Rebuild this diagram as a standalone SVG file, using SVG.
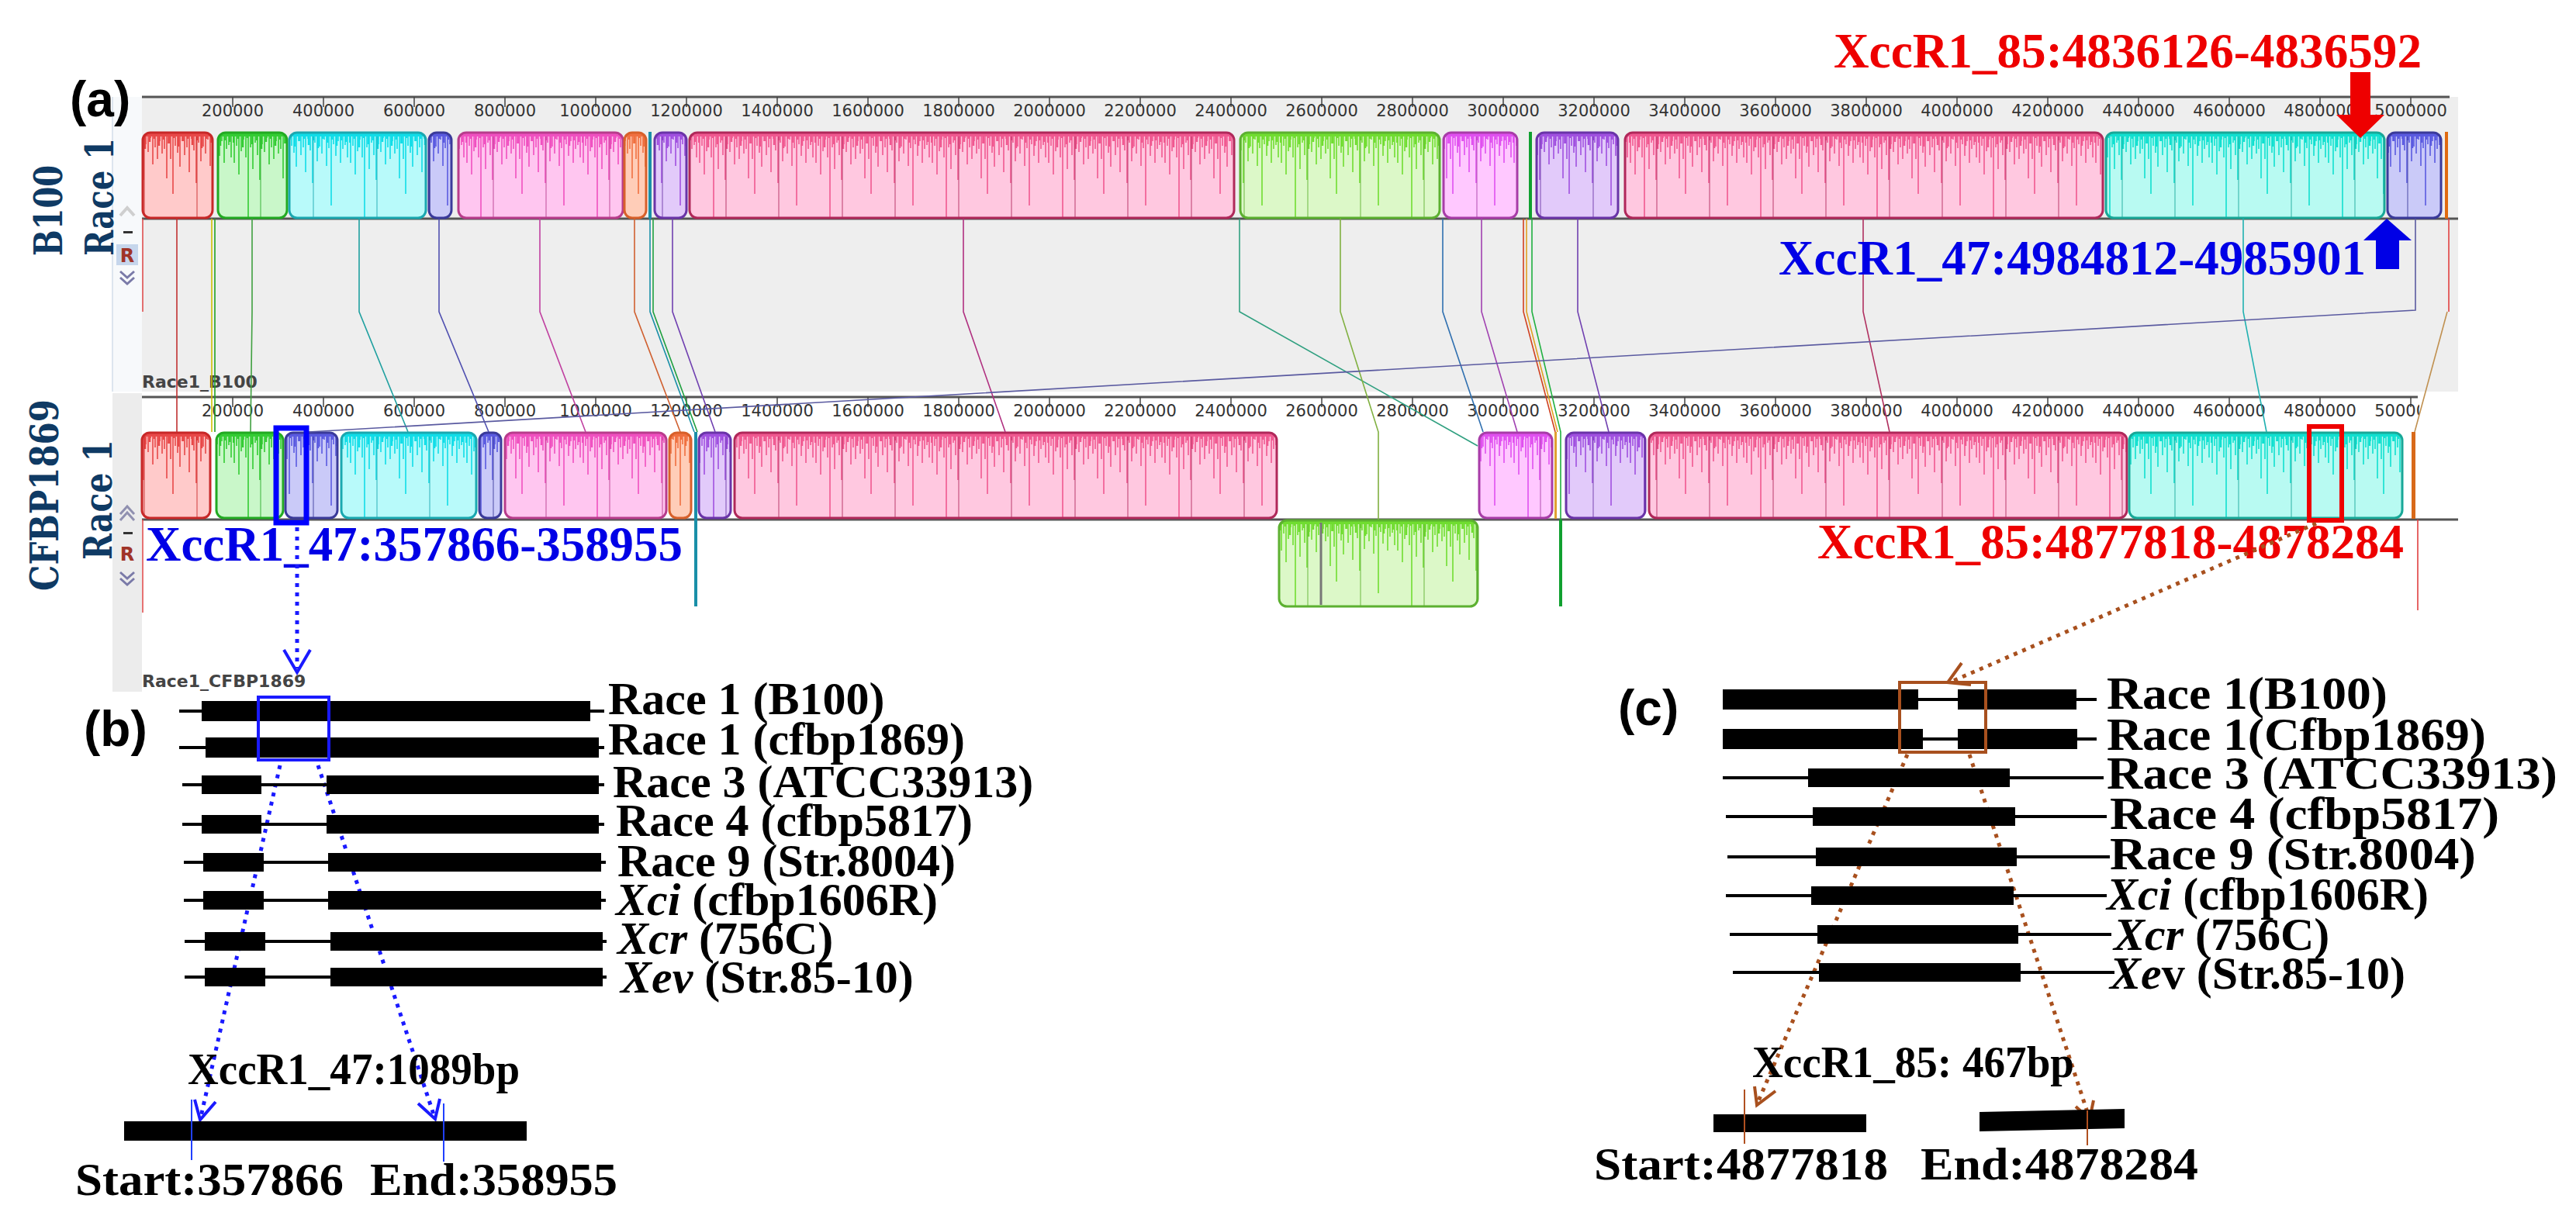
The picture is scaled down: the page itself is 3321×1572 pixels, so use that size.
<svg xmlns="http://www.w3.org/2000/svg" width="3321" height="1572" viewBox="0 0 3321 1572">
<defs>
<style>
.rl{font-family:"DejaVu Sans",sans-serif;font-size:21px;fill:#333;text-anchor:middle}
.tk{stroke:#444;stroke-width:1.5}
.nav{font-family:"DejaVu Serif",serif;font-weight:bold;fill:#0f3a64;font-size:50px}
.trk{font-family:"DejaVu Sans",sans-serif;font-weight:bold;font-size:22px;fill:#444}
.big{font-family:"Liberation Serif",serif;font-weight:bold;font-size:64px}
.lab{font-family:"Liberation Serif",serif;font-weight:bold;font-size:60px;fill:#000}
.sm{font-family:"Liberation Serif",serif;font-weight:bold;font-size:56px;fill:#000}
.pl{font-family:"Liberation Sans",sans-serif;font-weight:bold;font-size:64px;fill:#000}
.bar{fill:#000}
.thin{stroke:#000;stroke-width:4}
.c{fill:none;stroke-width:1.6}
.f-red{fill:#ffcaca}.s-red{fill:url(#p-red);stroke:#c82828;stroke-width:3}
.f-grn{fill:#c9f7c9}.s-grn{fill:url(#p-grn);stroke:#22aa22;stroke-width:3}
.f-cyn{fill:#b8fafa}.s-cyn{fill:url(#p-cyn);stroke:#1aa8b0;stroke-width:3}
.f-blu{fill:#cacaf8}.s-blu{fill:url(#p-blu);stroke:#3a3a9a;stroke-width:3}
.f-mag{fill:#ffc6f0}.s-mag{fill:url(#p-mag);stroke:#b83c8c;stroke-width:3}
.f-org{fill:#ffcdb8}.s-org{fill:url(#p-org);stroke:#d8602a;stroke-width:3}
.f-pur{fill:#e2cafa}.s-pur{fill:url(#p-pur);stroke:#6a34a8;stroke-width:3}
.f-ros{fill:#ffc8e0}.s-ros{fill:url(#p-ros);stroke:#b0285a;stroke-width:3}
.f-lim{fill:#dcf8c8}.s-lim{fill:url(#p-lim);stroke:#5cb030;stroke-width:3}
.f-vio{fill:#ffc8ff}.s-vio{fill:url(#p-vio);stroke:#a83ca8;stroke-width:3}
.f-cy2{fill:#b8faf2}.s-cy2{fill:url(#p-cy2);stroke:#18a898;stroke-width:3}
.dotb{fill:none;stroke:#1a1aff;stroke-width:5;stroke-dasharray:5 7}
.dotr{fill:none;stroke:#a8501e;stroke-width:5;stroke-dasharray:5 7}
.hb{fill:none;stroke:#1a1aff;stroke-width:4}
.hr{fill:none;stroke:#a8501e;stroke-width:4}
</style>
<g id="spk" fill="none" stroke-width="1.6">
<path d="M2 0V40M5 0V18M8 0V55M11 0V25M14 0V10M17 0V33M20 0V112M23 0V20M26 0V48M29 0V14M32 0V30M35 0V62M38 0V16M41 0V26M44 0V8M47 0V42M50 0V20M53 0V35M56 0V12M59 0V28"/>
<path d="M62 0V22M65 0V60M67 0V15M70 0V35M73 0V80M76 0V18M79 0V27M82 0V45M85 0V12M88 0V30M91 0V20M94 0V52M97 0V9M100 0V24M103 0V66M106 0V14M109 0V38M112 0V19M115 0V28M118 0V10M121 0V44M124 0V21M127 0V95M130 0V16M133 0V31M136 0V12M139 0V40M142 0V22M145 0V17M148 0V33"/>
<path d="M1 0V14M7 0V9M13 0V20M19 0V8M25 0V16M31 0V11M37 0V22M43 0V13M49 0V9M55 0V18M61 0V10M68 0V15M74 0V8M80 0V19M86 0V12M92 0V9M98 0V17M104 0V11M110 0V21M116 0V9M122 0V14M128 0V10M134 0V18M140 0V11M146 0V13" stroke-width="2.5"/>
</g>
<g id="spkd" fill="none" stroke-width="1.6" stroke-opacity="0.55">
<path d="M36 0V112M104 0V112"/>
</g>
<pattern id="p-red" width="150" height="112" patternUnits="userSpaceOnUse"><use href="#spk" stroke="#e84848"/><use href="#spkd" stroke="#c82828"/><rect width="150" height="6" fill="#e84848"/></pattern>
<pattern id="p-grn" width="150" height="112" patternUnits="userSpaceOnUse"><use href="#spk" stroke="#33cc33"/><use href="#spkd" stroke="#22aa22"/><rect width="150" height="6" fill="#33cc33"/></pattern>
<pattern id="p-cyn" width="150" height="112" patternUnits="userSpaceOnUse"><use href="#spk" stroke="#10dde8"/><use href="#spkd" stroke="#1aa8b0"/><rect width="150" height="6" fill="#10dde8"/></pattern>
<pattern id="p-blu" width="150" height="112" patternUnits="userSpaceOnUse"><use href="#spk" stroke="#5a5ae0"/><use href="#spkd" stroke="#3a3a9a"/><rect width="150" height="6" fill="#5a5ae0"/></pattern>
<pattern id="p-mag" width="150" height="112" patternUnits="userSpaceOnUse"><use href="#spk" stroke="#f050c0"/><use href="#spkd" stroke="#b83c8c"/><rect width="150" height="6" fill="#f050c0"/></pattern>
<pattern id="p-org" width="150" height="112" patternUnits="userSpaceOnUse"><use href="#spk" stroke="#f07040"/><use href="#spkd" stroke="#d8602a"/><rect width="150" height="6" fill="#f07040"/></pattern>
<pattern id="p-pur" width="150" height="112" patternUnits="userSpaceOnUse"><use href="#spk" stroke="#a050e0"/><use href="#spkd" stroke="#6a34a8"/><rect width="150" height="6" fill="#a050e0"/></pattern>
<pattern id="p-ros" width="150" height="112" patternUnits="userSpaceOnUse"><use href="#spk" stroke="#f05890"/><use href="#spkd" stroke="#b0285a"/><rect width="150" height="6" fill="#f05890"/></pattern>
<pattern id="p-lim" width="150" height="112" patternUnits="userSpaceOnUse"><use href="#spk" stroke="#70dd30"/><use href="#spkd" stroke="#5cb030"/><rect width="150" height="6" fill="#70dd30"/></pattern>
<pattern id="p-vio" width="150" height="112" patternUnits="userSpaceOnUse"><use href="#spk" stroke="#e050f0"/><use href="#spkd" stroke="#a83ca8"/><rect width="150" height="6" fill="#e050f0"/></pattern>
<pattern id="p-cy2" width="150" height="112" patternUnits="userSpaceOnUse"><use href="#spk" stroke="#10e0d0"/><use href="#spkd" stroke="#18a898"/><rect width="150" height="6" fill="#10e0d0"/></pattern>
<clipPath id="clipU"><rect x="183" y="100" width="2977" height="80"/></clipPath>
<clipPath id="clipL"><rect x="183" y="490" width="2936" height="80"/></clipPath>
</defs>
<rect width="3321" height="1572" fill="#fff"/>

<!-- panel backgrounds -->
<g id="panel-a-bg">
<rect x="183" y="125" width="2986" height="380" fill="#eeeeee"/>
<rect x="145" y="125" width="38" height="380" fill="#f7f9fb"/>
<line x1="145" y1="125" x2="145" y2="505" stroke="#dde5ee" stroke-width="2"/>
<rect x="145" y="507" width="38" height="385" fill="#ececec"/>
<line x1="183" y1="125" x2="3158" y2="125" stroke="#555" stroke-width="3"/>
<line x1="183" y1="512" x2="3117" y2="512" stroke="#555" stroke-width="3"/>
<line x1="183" y1="282" x2="3169" y2="282" stroke="#555" stroke-width="3"/>
<line x1="183" y1="670" x2="3169" y2="670" stroke="#555" stroke-width="3"/>
</g>

<!-- rulers -->
<g id="ruler-upper">
<path class="tk" d="M300 125V138M417 125V138M534 125V138M651 125V138M768 125V138M885 125V138M1002 125V138M1119 125V138M1236 125V138M1353 125V138M1470 125V138M1587 125V138M1704 125V138M1821 125V138M1938 125V138M2055 125V138M2172 125V138M2289 125V138M2406 125V138M2523 125V138M2640 125V138M2757 125V138M2874 125V138M2991 125V138M3108 125V138"/>
<g clip-path="url(#clipU)">
<text class="rl" x="300" y="150">200000</text><text class="rl" x="417" y="150">400000</text><text class="rl" x="534" y="150">600000</text><text class="rl" x="651" y="150">800000</text><text class="rl" x="768" y="150">1000000</text><text class="rl" x="885" y="150">1200000</text><text class="rl" x="1002" y="150">1400000</text><text class="rl" x="1119" y="150">1600000</text><text class="rl" x="1236" y="150">1800000</text><text class="rl" x="1353" y="150">2000000</text><text class="rl" x="1470" y="150">2200000</text><text class="rl" x="1587" y="150">2400000</text><text class="rl" x="1704" y="150">2600000</text><text class="rl" x="1821" y="150">2800000</text><text class="rl" x="1938" y="150">3000000</text><text class="rl" x="2055" y="150">3200000</text><text class="rl" x="2172" y="150">3400000</text><text class="rl" x="2289" y="150">3600000</text><text class="rl" x="2406" y="150">3800000</text><text class="rl" x="2523" y="150">4000000</text><text class="rl" x="2640" y="150">4200000</text><text class="rl" x="2757" y="150">4400000</text><text class="rl" x="2874" y="150">4600000</text><text class="rl" x="2991" y="150">4800000</text><text class="rl" x="3108" y="150">5000000</text>
</g>
</g>
<g id="ruler-lower">
<path class="tk" d="M300 512V525M417 512V525M534 512V525M651 512V525M768 512V525M885 512V525M1002 512V525M1119 512V525M1236 512V525M1353 512V525M1470 512V525M1587 512V525M1704 512V525M1821 512V525M1938 512V525M2055 512V525M2172 512V525M2289 512V525M2406 512V525M2523 512V525M2640 512V525M2757 512V525M2874 512V525M2991 512V525M3108 512V525"/>
<g clip-path="url(#clipL)">
<text class="rl" x="300" y="537">200000</text><text class="rl" x="417" y="537">400000</text><text class="rl" x="534" y="537">600000</text><text class="rl" x="651" y="537">800000</text><text class="rl" x="768" y="537">1000000</text><text class="rl" x="885" y="537">1200000</text><text class="rl" x="1002" y="537">1400000</text><text class="rl" x="1119" y="537">1600000</text><text class="rl" x="1236" y="537">1800000</text><text class="rl" x="1353" y="537">2000000</text><text class="rl" x="1470" y="537">2200000</text><text class="rl" x="1587" y="537">2400000</text><text class="rl" x="1704" y="537">2600000</text><text class="rl" x="1821" y="537">2800000</text><text class="rl" x="1938" y="537">3000000</text><text class="rl" x="2055" y="537">3200000</text><text class="rl" x="2172" y="537">3400000</text><text class="rl" x="2289" y="537">3600000</text><text class="rl" x="2406" y="537">3800000</text><text class="rl" x="2523" y="537">4000000</text><text class="rl" x="2640" y="537">4200000</text><text class="rl" x="2757" y="537">4400000</text><text class="rl" x="2874" y="537">4600000</text><text class="rl" x="2991" y="537">4800000</text><text class="rl" x="3108" y="537">5000000</text>
</g>
</g>

<!-- track labels and controls -->
<g id="labels-left">
<text class="pl" x="90" y="150">(a)</text>
<text class="nav" transform="translate(80,330) rotate(-90)" textLength="117" lengthAdjust="spacingAndGlyphs">B100</text>
<text class="nav" transform="translate(146,330) rotate(-90)" textLength="152" lengthAdjust="spacingAndGlyphs">Race 1</text>
<text class="nav" transform="translate(75,762) rotate(-90)" textLength="247" lengthAdjust="spacingAndGlyphs">CFBP1869</text>
<text class="nav" transform="translate(144,722) rotate(-90)" textLength="155" lengthAdjust="spacingAndGlyphs">Race 1</text>
<g id="ctrl-upper">
<path d="M155 278L164 268L173 278" fill="none" stroke="#cfcfcf" stroke-width="4"/>
<rect x="159" y="298" width="12" height="3" fill="#333"/>
<rect x="150" y="315" width="28" height="27" fill="#c6d6ec"/>
<text x="164" y="338" font-family="DejaVu Sans,sans-serif" font-weight="bold" font-size="24" fill="#a03428" text-anchor="middle">R</text>
<path d="M155 350L164 358L173 350M155 358L164 366L173 358" fill="none" stroke="#7a7aa8" stroke-width="3"/>
</g>
<g id="ctrl-lower">
<path d="M155 663L164 653L173 663M155 671L164 661L173 671" fill="none" stroke="#9090b0" stroke-width="3"/>
<rect x="159" y="686" width="12" height="3" fill="#333"/>
<text x="164" y="723" font-family="DejaVu Sans,sans-serif" font-weight="bold" font-size="24" fill="#a03428" text-anchor="middle">R</text>
<path d="M155 738L164 746L173 738M155 746L164 754L173 746" fill="none" stroke="#7a7aa8" stroke-width="3"/>
</g>
<text class="trk" x="183" y="500">Race1_B100</text>
<text class="trk" x="183" y="886">Race1_CFBP1869</text>
</g>

<!-- upper track blocks (B100) -->
<g id="track-b100" transform="translate(0,170)">
<g id="u1"><rect class="f-red" x="184" y="1" width="90" height="110" rx="10"/><rect class="s-red" x="184" y="1" width="90" height="110" rx="10"/></g>
<g id="u2"><rect class="f-grn" x="281" y="1" width="89" height="110" rx="10"/><rect class="s-grn" x="281" y="1" width="89" height="110" rx="10"/></g>
<g id="u3"><rect class="f-cyn" x="373" y="1" width="176" height="110" rx="10"/><rect class="s-cyn" x="373" y="1" width="176" height="110" rx="10"/></g>
<g id="u4"><rect class="f-blu" x="553" y="1" width="29" height="110" rx="10"/><rect class="s-blu" x="553" y="1" width="29" height="110" rx="10"/></g>
<g id="u5"><rect class="f-mag" x="591" y="1" width="212" height="110" rx="10"/><rect class="s-mag" x="591" y="1" width="212" height="110" rx="10"/></g>
<g id="u6"><rect class="f-org" x="805" y="1" width="28" height="110" rx="10"/><rect class="s-org" x="805" y="1" width="28" height="110" rx="10"/></g>
<rect id="u7" x="836" y="0" width="4" height="112" fill="#1a8fa8"/>
<g id="u8"><rect class="f-pur" x="844" y="1" width="41" height="110" rx="10"/><rect class="s-pur" x="844" y="1" width="41" height="110" rx="10"/></g>
<g id="u9"><rect class="f-ros" x="889" y="1" width="702" height="110" rx="10"/><rect class="s-ros" x="889" y="1" width="702" height="110" rx="10"/></g>
<g id="u10"><rect class="f-lim" x="1599" y="1" width="257" height="110" rx="10"/><rect class="s-lim" x="1599" y="1" width="257" height="110" rx="10"/></g>
<g id="u11"><rect class="f-vio" x="1861" y="1" width="95" height="110" rx="10"/><rect class="s-vio" x="1861" y="1" width="95" height="110" rx="10"/></g>
<rect id="u12" x="1971" y="0" width="4" height="112" fill="#10a030"/>
<g id="u13"><rect class="f-pur" x="1981" y="1" width="105" height="110" rx="10"/><rect class="s-pur" x="1981" y="1" width="105" height="110" rx="10"/></g>
<g id="u14"><rect class="f-ros" x="2095" y="1" width="616" height="110" rx="10"/><rect class="s-ros" x="2095" y="1" width="616" height="110" rx="10"/></g>
<g id="u15"><rect class="f-cy2" x="2715" y="1" width="359" height="110" rx="10"/><rect class="s-cy2" x="2715" y="1" width="359" height="110" rx="10"/></g>
<g id="u16"><rect class="f-blu" x="3078" y="1" width="69" height="110" rx="10"/><rect class="s-blu" x="3078" y="1" width="69" height="110" rx="10"/></g>
<rect id="u17" x="3152" y="0" width="4" height="112" fill="#e06a10"/>
</g>

<!-- lower track blocks (CFBP1869) -->
<g id="track-cfbp1869" transform="translate(0,557)">
<g id="l1"><rect class="f-red" x="183" y="1" width="88" height="110" rx="10"/><rect class="s-red" x="183" y="1" width="88" height="110" rx="10"/></g>
<g id="l2"><rect class="f-grn" x="279" y="1" width="86" height="110" rx="10"/><rect class="s-grn" x="279" y="1" width="86" height="110" rx="10"/></g>
<g id="l3"><rect class="f-blu" x="368" y="1" width="67" height="110" rx="10"/><rect class="s-blu" x="368" y="1" width="67" height="110" rx="10"/><line x1="393" y1="2" x2="393" y2="110" stroke="#3a3a9a" stroke-width="2"/></g>
<g id="l4"><rect class="f-cyn" x="440" y="1" width="174" height="110" rx="10"/><rect class="s-cyn" x="440" y="1" width="174" height="110" rx="10"/></g>
<g id="l5"><rect class="f-blu" x="618" y="1" width="28" height="110" rx="10"/><rect class="s-blu" x="618" y="1" width="28" height="110" rx="10"/></g>
<g id="l6"><rect class="f-mag" x="651" y="1" width="208" height="110" rx="10"/><rect class="s-mag" x="651" y="1" width="208" height="110" rx="10"/></g>
<g id="l7"><rect class="f-org" x="863" y="1" width="28" height="110" rx="10"/><rect class="s-org" x="863" y="1" width="28" height="110" rx="10"/></g>
<rect id="l8" x="895" y="0" width="4" height="225" fill="#1a8fa8"/>
<g id="l9"><rect class="f-pur" x="901" y="1" width="41" height="110" rx="10"/><rect class="s-pur" x="901" y="1" width="41" height="110" rx="10"/></g>
<g id="l10"><rect class="f-ros" x="947" y="1" width="699" height="110" rx="10"/><rect class="s-ros" x="947" y="1" width="699" height="110" rx="10"/></g>
<g id="l11"><rect class="f-vio" x="1907" y="1" width="94" height="110" rx="10"/><rect class="s-vio" x="1907" y="1" width="94" height="110" rx="10"/></g>
<rect id="l12" x="2004" y="0" width="3" height="112" fill="#e0a030"/>
<g id="l13"><rect class="f-pur" x="2019" y="1" width="102" height="110" rx="10"/><rect class="s-pur" x="2019" y="1" width="102" height="110" rx="10"/></g>
<g id="l14"><rect class="f-ros" x="2126" y="1" width="616" height="110" rx="10"/><rect class="s-ros" x="2126" y="1" width="616" height="110" rx="10"/></g>
<g id="l15"><rect class="f-cy2" x="2745" y="1" width="352" height="110" rx="10"/><rect class="s-cy2" x="2745" y="1" width="352" height="110" rx="10"/></g>
<rect id="l16" x="3109" y="0" width="5" height="112" fill="#d86a1a"/>
</g>
<g id="track-cfbp1869-inverted" transform="translate(0,670)">
<g id="l17"><rect class="f-lim" x="1649" y="1" width="256" height="111" rx="10"/><rect class="s-lim" x="1649" y="1" width="256" height="111" rx="10"/><line x1="1703" y1="4" x2="1703" y2="110" stroke="#777" stroke-width="3"/></g>
<rect id="l18" x="2010" y="0" width="4" height="112" fill="#10a030"/>
</g>

<!-- connectors between aligned blocks -->
<g id="connectors">
<path class="c" stroke="#e05050" d="M184 282V402M184 670V790"/>
<path class="c" stroke="#c03030" d="M228 282V557"/>
<path class="c" stroke="#d0c000" d="M273 282V557"/>
<path class="c" stroke="#20a020" d="M277 282V557"/>
<path class="c" stroke="#40a040" d="M325 282V402L323 557"/>
<path class="c" stroke="#20a0a0" d="M463 282V402L526 557"/>
<path class="c" stroke="#5050b0" d="M566 282V402L630 557"/>
<path class="c" stroke="#c040a0" d="M696 282V402L755 557"/>
<path class="c" stroke="#d06030" d="M818 282V402L877 557"/>
<path class="c" stroke="#1a8fa8" stroke-width="2.5" d="M838 282V402L895 557"/>
<path class="c" stroke="#20a040" d="M842 282V402L899 557"/>
<path class="c" stroke="#7040b0" d="M867 282V402L922 557"/>
<path class="c" stroke="#b03080" d="M1242 282V402L1296 557"/>
<path class="c" stroke="#30a080" stroke-width="2.5" d="M1598 282V402L1905 575"/>
<path class="c" stroke="#80b040" d="M1728 282V402L1777 557V670"/>
<path class="c" stroke="#3070b0" d="M1860 282V402L1912 557"/>
<path class="c" stroke="#a040b0" d="M1910 282V402L1956 557"/>
<path class="c" stroke="#d04020" d="M1964 282V402L2005 557"/>
<path class="c" stroke="#e0a020" d="M1968 282V402L2008 557"/>
<path class="c" stroke="#20b040" d="M1975 282V402L2012 557V670"/>
<path class="c" stroke="#7040b0" d="M2034 282V402L2074 557"/>
<path class="c" stroke="#b03060" d="M2402 282V402L2436 557"/>
<path class="c" stroke="#20b0b0" d="M2892 282V402L2922 557"/>
<path class="c" stroke="#5a5aa0" stroke-width="4" d="M3114 282V400L398 557"/>
<path class="c" stroke="#e04040" d="M3157 282V402M3117 670V787"/>
<path class="c" stroke="#c09050" d="M3155 402L3113 557"/>
</g>

<!-- annotations on panel (a) -->
<g id="ann-red-top">
<text class="big" x="2364" y="87" fill="#ee0000" textLength="758" lengthAdjust="spacingAndGlyphs">XccR1_85:4836126-4836592</text>
<rect x="3030" y="93" width="26" height="56" fill="#ee0000"/>
<polygon points="3012,148 3074,148 3043,178" fill="#ee0000"/>
</g>
<g id="ann-blue-top">
<text class="big" x="2293" y="354" fill="#0000e6" textLength="757" lengthAdjust="spacingAndGlyphs">XccR1_47:4984812-4985901</text>
<polygon points="3077,282 3047,310 3109,310" fill="#0000e6"/>
<rect x="3063" y="309" width="30" height="38" fill="#0000e6"/>
</g>
<g id="ann-blue-low">
<rect x="356" y="552" width="39" height="122" fill="none" stroke="#0000ff" stroke-width="7"/>
<text class="big" x="188" y="723" fill="#0000e6" textLength="692" lengthAdjust="spacingAndGlyphs">XccR1_47:357866-358955</text>
</g>
<g id="ann-red-low">
<rect x="2977" y="550" width="42" height="121" fill="none" stroke="#ee0000" stroke-width="6"/>
<text class="big" x="2343" y="720" fill="#ee0000" textLength="756" lengthAdjust="spacingAndGlyphs">XccR1_85:4877818-4878284</text>
</g>

<!-- zoom arrows -->
<g id="arrows">
<path class="dotb" d="M383 680V862"/>
<path d="M366 838L383 867L400 838" fill="none" stroke="#1a1aff" stroke-width="4"/>
<path class="dotr" d="M2986 675L2518 878"/>
<path d="M2529 855L2511 880L2541 883" fill="none" stroke="#a8501e" stroke-width="4"/>
<path class="dotb" d="M361 987L259 1440"/>
<path d="M251 1418L258 1444L278 1421" fill="none" stroke="#1a1aff" stroke-width="4"/>
<path class="dotb" d="M410 987L560 1440"/>
<path d="M539 1423L561 1443L567 1417" fill="none" stroke="#1a1aff" stroke-width="4"/>
<path class="dotr" d="M2459 973L2266 1422"/>
<path d="M2262 1401L2265 1425L2289 1407" fill="none" stroke="#a8501e" stroke-width="4"/>
<path class="dotr" d="M2539 973L2693 1440"/>
<path d="M2676 1427L2694 1443L2699 1419" fill="none" stroke="#a8501e" stroke-width="4"/>
</g>

<!-- panel (b) -->
<g id="panel-b">
<text class="pl" x="108" y="962">(b)</text>
<g id="b-rows">
<path class="thin" d="M231 917H262M761 917H779M231 964H266M772 964H779M235 1012H779M235 1063H779M237 1112H781M237 1161H781M238 1214H782M238 1260H782"/>
<rect class="bar" x="260" y="904" width="501" height="26"/>
<rect class="bar" x="265" y="951" width="507" height="26"/>
<rect class="bar" x="260" y="1000" width="77" height="24"/><rect class="bar" x="421" y="1000" width="351" height="24"/>
<rect class="bar" x="260" y="1051" width="77" height="24"/><rect class="bar" x="421" y="1051" width="351" height="24"/>
<rect class="bar" x="262" y="1100" width="78" height="24"/><rect class="bar" x="423" y="1100" width="352" height="24"/>
<rect class="bar" x="262" y="1149" width="78" height="24"/><rect class="bar" x="423" y="1149" width="352" height="24"/>
<rect class="bar" x="264" y="1202" width="78" height="24"/><rect class="bar" x="426" y="1202" width="351" height="24"/>
<rect class="bar" x="264" y="1248" width="78" height="24"/><rect class="bar" x="426" y="1248" width="351" height="24"/>
</g>
<rect class="hb" x="333" y="899" width="91" height="81" stroke-width="5"/>
<text class="lab" x="784" y="921">Race 1 (B100)</text>
<text class="lab" x="784" y="973">Race 1 (cfbp1869)</text>
<text class="lab" x="790" y="1028">Race 3 (ATCC33913)</text>
<text class="lab" x="794" y="1078">Race 4 (cfbp5817)</text>
<text class="lab" x="796" y="1130">Race 9 (Str.8004)</text>
<text class="lab" x="794" y="1180"><tspan font-style="italic">Xci</tspan> (cfbp1606R)</text>
<text class="lab" x="796" y="1230"><tspan font-style="italic">Xcr</tspan> (756C)</text>
<text class="lab" x="800" y="1280"><tspan font-style="italic">Xev</tspan> (Str.85-10)</text>
<text class="sm" x="242" y="1398" textLength="428" lengthAdjust="spacingAndGlyphs">XccR1_47:1089bp</text>
<rect class="bar" x="160" y="1446" width="519" height="25"/>
<path d="M247 1418V1496M572 1423V1498" stroke="#2040ff" stroke-width="2"/>
<text class="lab" x="97" y="1541" textLength="346" lengthAdjust="spacingAndGlyphs">Start:357866</text>
<text class="lab" x="477" y="1541" textLength="319" lengthAdjust="spacingAndGlyphs">End:358955</text>
</g>

<!-- panel (c) -->
<g id="panel-c">
<text class="pl" x="2086" y="935">(c)</text>
<g id="c-rows">
<path class="thin" d="M2473 902H2524M2677 902H2703M2479 953H2524M2678 953H2703M2221 1003H2712M2225 1053H2716M2227 1105H2720M2225 1155H2716M2230 1205H2722M2234 1254H2726"/>
<rect class="bar" x="2221" y="889" width="252" height="26"/><rect class="bar" x="2524" y="889" width="153" height="26"/>
<rect class="bar" x="2221" y="940" width="258" height="26"/><rect class="bar" x="2524" y="940" width="154" height="26"/>
<rect class="bar" x="2331" y="991" width="260" height="24"/>
<rect class="bar" x="2337" y="1041" width="261" height="24"/>
<rect class="bar" x="2341" y="1093" width="259" height="24"/>
<rect class="bar" x="2335" y="1143" width="261" height="24"/>
<rect class="bar" x="2343" y="1193" width="259" height="24"/>
<rect class="bar" x="2345" y="1242" width="260" height="24"/>
</g>
<rect class="hr" x="2449" y="880" width="111" height="90" stroke-width="5"/>
<text class="lab" x="2716" y="914" textLength="362" lengthAdjust="spacingAndGlyphs">Race 1(B100)</text>
<text class="lab" x="2716" y="967" textLength="489" lengthAdjust="spacingAndGlyphs">Race 1(Cfbp1869)</text>
<text class="lab" x="2716" y="1017" textLength="581" lengthAdjust="spacingAndGlyphs">Race 3 (ATCC33913)</text>
<text class="lab" x="2720" y="1069" textLength="502" lengthAdjust="spacingAndGlyphs">Race 4 (cfbp5817)</text>
<text class="lab" x="2720" y="1121" textLength="472" lengthAdjust="spacingAndGlyphs">Race 9 (Str.8004)</text>
<text class="lab" x="2716" y="1173"><tspan font-style="italic">Xci</tspan> (cfbp1606R)</text>
<text class="lab" x="2725" y="1225"><tspan font-style="italic">Xcr</tspan> (756C)</text>
<text class="lab" x="2720" y="1275"><tspan font-style="italic">Xe</tspan>v (Str.85-10)</text>
<text class="sm" x="2259" y="1389" textLength="415" lengthAdjust="spacingAndGlyphs">XccR1_85: 467bp</text>
<rect class="bar" x="2209" y="1437" width="197" height="23"/>
<polygon class="bar" points="2552,1434 2739,1430 2739,1455 2552,1459"/>
<path d="M2249 1405V1475M2691 1432V1477" stroke="#b05020" stroke-width="2"/>
<text class="lab" x="2055" y="1521" textLength="379" lengthAdjust="spacingAndGlyphs">Start:4877818</text>
<text class="lab" x="2476" y="1521" textLength="358" lengthAdjust="spacingAndGlyphs">End:4878284</text>
</g>
</svg>
